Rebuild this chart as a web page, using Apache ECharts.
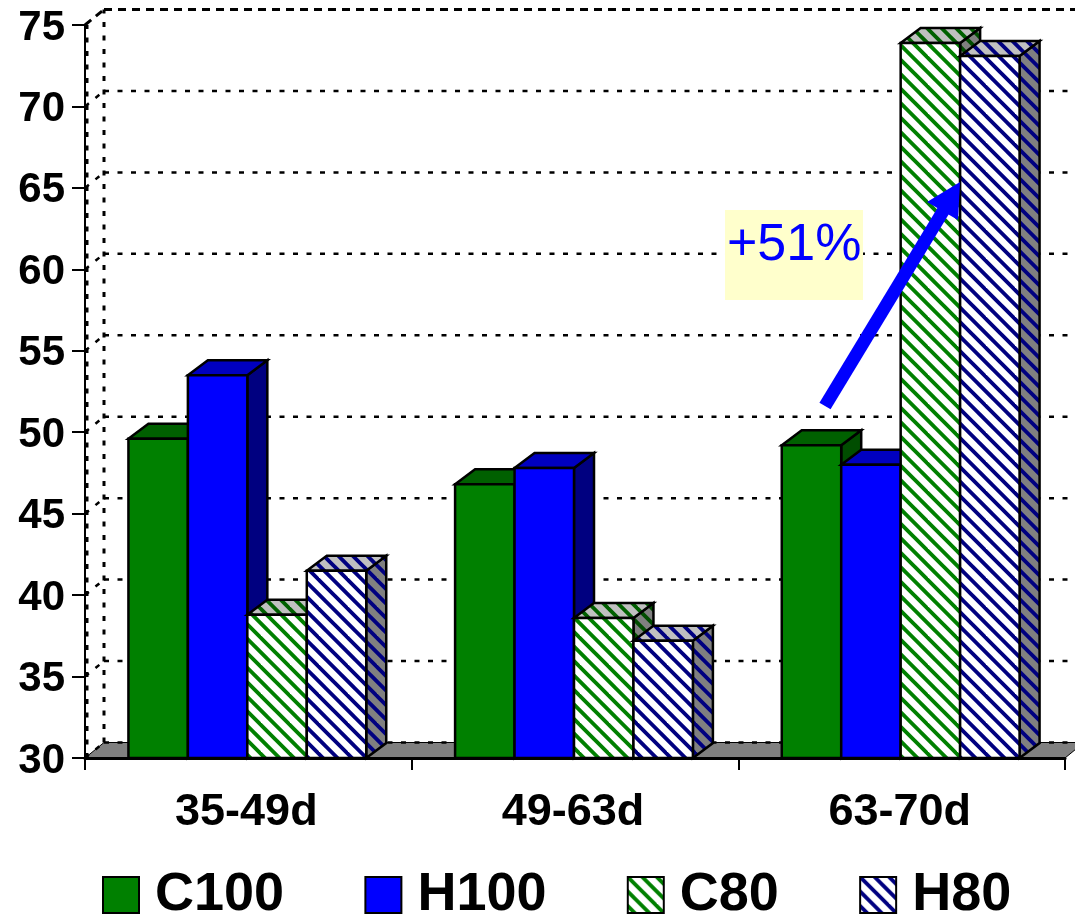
<!DOCTYPE html>
<html>
<head>
<meta charset="utf-8">
<style>html,body{margin:0;padding:0;background:#fff}#chart{width:1075px;height:918px}</style>
<script src="https://cdn.jsdelivr.net/npm/echarts@6/dist/echarts.min.js"></script>
</head>
<body>
<div id="chart"></div>
<script>
const categories = ['35-49d', '49-63d', '63-70d']
const c100 = [49.6, 46.8, 49.2]
const h100 = [53.5, 47.8, 48.0]
const c80 = [38.8, 38.6, 73.9]
const h80 = [41.5, 37.2, 73.1]
const wallTicks = [30, 35, 40, 45, 50, 55, 60, 65, 70, 75]

const font = '"Liberation Sans", Arial, sans-serif'
const depthX = 20, depthY = -15
const barShare = 0.182

// diagonal hatch tile, two stripes per 29px so the spacing comes out at 14.5
const hatch = (bg, stripe) => {
    const p = 29
    const cv = document.createElement('canvas')
    cv.width = p
    cv.height = p
    const ctx = cv.getContext('2d')
    ctx.fillStyle = bg
    ctx.fillRect(0, 0, p, p)
    ctx.strokeStyle = stripe
    ctx.lineWidth = 3.8
    for (let o = -p; o <= p; o += p / 2) {
        ctx.beginPath()
        ctx.moveTo(o - 2, -2)
        ctx.lineTo(o + p + 2, p + 2)
        ctx.stroke()
    }
    return { image: cv, repeat: 'repeat' }
}

const barFaces = {
    C100: { front: '#008000', top: '#006000', side: '#004d00' },
    H100: { front: '#0000ff', top: '#0000c0', side: '#000080' },
    C80: { front: hatch('#fff', '#008000'), top: hatch('#c0c0c0', '#006000'), side: hatch('#808080', '#004d00') },
    H80: { front: hatch('#fff', '#000080'), top: hatch('#c0c0c0', '#000080'), side: hatch('#808080', '#000080') }
}

const edge = { stroke: '#000', lineWidth: 2.5, lineJoin: 'miter' }

const barSeries = (name, values, slot) => ({
    name,
    type: 'custom',
    z: 3,
    itemStyle: { color: barFaces[name].front, borderColor: '#000', borderWidth: 2 },
    data: values.map((v, i) => [i, v]),
    encode: { x: 0, y: 1 },
    renderItem: (params, api) => {
        const catW = api.size([1, 0])[0]
        const w = catW * barShare
        const base = api.coord([api.value(0), 30])
        const top = api.coord([api.value(0), api.value(1)])
        const x0 = base[0] + (slot - 2) * w - 1
        const x1 = x0 + w
        const y0 = top[1], y1 = base[1]
        const f = barFaces[name]
        return {
            type: 'group',
            children: [
                { type: 'polygon', shape: { points: [[x1, y1], [x1 + depthX, y1 + depthY], [x1 + depthX, y0 + depthY], [x1, y0]] }, style: { fill: f.side, ...edge } },
                { type: 'polygon', shape: { points: [[x0, y0], [x0 + depthX, y0 + depthY], [x1 + depthX, y0 + depthY], [x1, y0]] }, style: { fill: f.top, ...edge } },
                { type: 'rect', shape: { x: x0, y: y0, width: w, height: y1 - y0 }, style: { fill: f.front, ...edge } }
            ]
        }
    }
})

// back wall grid and floor
const wallSeries = {
    name: 'wall',
    type: 'custom',
    z: 1,
    silent: true,
    data: wallTicks.map(t => [0, t]),
    encode: { y: 1 },
    renderItem: (params, api) => {
        const cs = params.coordSys
        const p = api.coord([0, api.value(1)])
        const x = cs.x, y = p[1]
        const dx = 19, dy = -15.5
        const isTop = api.value(1) === 75
        const dash = isTop ? [8, 6] : [5, 8.5]
        const lw = isTop ? 3 : 2.5
        const line = (x1, y1, x2, y2, d, w) => ({
            type: 'line',
            shape: { x1, y1, x2, y2 },
            style: { stroke: '#000', lineWidth: w, lineDash: d, fill: null }
        })
        const kids = []
        if (api.value(1) === 30) {
            kids.push({
                type: 'polygon',
                shape: { points: [[x, y], [x + dx, y + dy], [x + cs.width + dx, y + dy], [x + cs.width, y]] },
                style: { fill: '#808080', stroke: '#000', lineWidth: 1 }
            })
            kids.push(line(x + dx, y + dy, x + dx, cs.y + dy, [5, 8.5], 3))
            kids.push(line(x + 2, y, x + 2, cs.y, [5, 8.5], 3))
        }
        kids.push(line(x, y, x + dx, y + dy, dash, lw))
        kids.push(line(x + dx, y + dy, x + cs.width + dx, y + dy, dash, lw))
        return { type: 'group', children: kids }
    }
}

const myChart = echarts.init(document.getElementById('chart'))
myChart.setOption({
    animation: false,
    backgroundColor: '#fff',
    grid: { left: 85, right: 10, top: 25, bottom: 160, containLabel: false },
    legend: {
        data: ['C100', 'H100', 'C80', 'H80'],
        icon: 'rect',
        left: 97,
        top: 863,
        itemWidth: 36,
        itemHeight: 36,
        itemGap: 80.3,
        selectedMode: false,
        textStyle: { fontFamily: font, fontWeight: 'bold', fontSize: 54, color: '#000', padding: [0, 0, 0, 11] }
    },
    xAxis: {
        type: 'category',
        data: categories,
        z: 10,
        axisLine: { lineStyle: { color: '#000', width: 3 } },
        axisTick: { show: true, length: 12, lineStyle: { color: '#000', width: 2 } },
        axisLabel: { margin: 32, color: '#000', fontFamily: font, fontWeight: 'bold', fontSize: 45, padding: [0, 4, 0, 0] }
    },
    yAxis: {
        type: 'value',
        min: 30,
        max: 75,
        interval: 5,
        z: 10,
        splitLine: { show: false },
        axisLine: { show: true, lineStyle: { color: '#000', width: 2 } },
        axisTick: { show: true, length: 13, lineStyle: { color: '#000', width: 2 } },
        axisLabel: { margin: 20, color: '#000', fontFamily: font, fontWeight: 'bold', fontSize: 42, verticalAlign: 'top', lineHeight: 6 }
    },
    graphic: [
        { type: 'rect', z: 20, shape: { x: 725, y: 210, width: 138, height: 90 }, style: { fill: '#ffffcc' } },
        { type: 'text', z: 21, x: 727, y: 220, style: { text: '+51%', fill: '#0000ff', font: '52px ' + font } },
        { type: 'line', z: 22, shape: { x1: 825, y1: 406, x2: 945, y2: 208 }, style: { stroke: '#0000ff', lineWidth: 13 } },
        { type: 'polygon', z: 22, shape: { points: [[960, 182], [927, 202], [958, 220]] }, style: { fill: '#0000ff' } }
    ],
    series: [
        wallSeries,
        barSeries('C100', c100, 0),
        barSeries('H100', h100, 1),
        barSeries('C80', c80, 2),
        barSeries('H80', h80, 3)
    ]
})
</script>
</body>
</html>
